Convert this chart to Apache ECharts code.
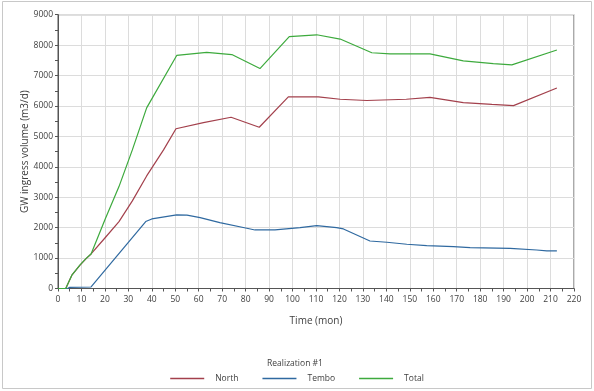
<!DOCTYPE html>
<html>
<head>
<meta charset="utf-8">
<script src="https://cdn.jsdelivr.net/npm/echarts@6/dist/echarts.min.js"></script>
<style>
html,body{margin:0;padding:0;background:#fff;}
#c{width:594px;height:391px;}
</style>
</head>
<body>
<div id="c"></div>
<script>
var seriesNames = ['North', 'Tembo', 'Total'];
var legendTitle = 'Realization #1';
var xTitle = 'Time (mon)';
var yTitle = 'GW ingress volume (m3/d)';

var north = [[0,0],[3.3,0],[6,450],[9.4,770],[12,980],[14.1,1135],[20,1660],[26,2200],[31.7,2880],[37.8,3700],[45,4556],[50.3,5250],[62,5450],[73.8,5630],[85.8,5300],[98.2,6300],[111,6300],[120.3,6220],[131.6,6180],[148.5,6220],[158.6,6280],[172.8,6110],[185,6050],[194.2,6010],[212.7,6590]];
var tembo = [[0,0],[4,0],[5,40],[14.1,50],[37.4,2200],[40,2286],[50.6,2418],[55,2410],[60.6,2330],[69,2165],[80.5,1980],[84,1924],[92.5,1924],[103.2,2000],[110.3,2066],[118.8,2000],[121.7,1957],[133,1562],[140.2,1520],[148.7,1454],[157.2,1408],[168.6,1375],[175.7,1342],[192.8,1322],[204.1,1266],[208.4,1234],[212.7,1234]];
var total = [[0,0],[3.3,0],[6,450],[9.4,775],[12,990],[14.1,1135],[20,2260],[26,3350],[31.7,4556],[37.8,5936],[50.6,7660],[63.4,7760],[74.1,7690],[86.1,7230],[98.6,8280],[110.3,8340],[120.3,8200],[133.8,7750],[141.6,7710],[158.6,7710],[172.8,7480],[185.6,7390],[193.5,7350],[212.7,7840]];

var colors = ['#A3404C', '#2F69A0', '#3DAA3D'];
var font = 'Open Sans';
var txt = '#404040';

var chart = echarts.init(document.getElementById('c'), null, {renderer: 'canvas'});
chart.setOption({
  animation: false,
  backgroundColor: '#fff',
  color: colors,
  textStyle: {fontFamily: font},
  title: {
    text: legendTitle,
    left: 290, top: 354, textAlign: 'center',
    textStyle: {fontSize: 8.5, fontWeight: 'normal', color: txt, fontFamily: font}
  },
  legend: {
    data: seriesNames,
    left: 'center', top: 369,
    icon: 'rect', itemWidth: 34, itemHeight: 1.5, itemGap: 24,
    textStyle: {fontSize: 8.5, color: txt, fontFamily: font, padding: [0,0,0,6]}
  },
  graphic: [{
    type: 'rect', shape: {x: 2.5, y: 1.5, width: 589, height: 387},
    style: {fill: 'none', stroke: '#c8c8c8', lineWidth: 1}, silent: true, z: 0
  }],
  grid: {left: 58, right: 20, top: 14.7, bottom: 102.5, show: true, borderColor: '#555', borderWidth: 1, containLabel: false},
  xAxis: {
    type: 'value', min: 0, max: 220, interval: 10,
    name: xTitle, nameLocation: 'middle', nameGap: 28, nameMoveOverlap: false,
    nameTextStyle: {fontSize: 10, color: txt, fontFamily: font},
    axisLine: {show: true, lineStyle: {color: '#555'}},
    axisTick: {show: true, length: 3, lineStyle: {color: '#555'}},
    minorTick: {show: true, splitNumber: 2, length: 3, lineStyle: {color: '#555'}},
    axisLabel: {fontSize: 8.5, color: txt, margin: 7, fontFamily: font, formatter: function (v) { return String(v); }},
    splitLine: {show: true, lineStyle: {color: '#dcdcdc'}}
  },
  yAxis: {
    type: 'value', min: 0, max: 9000, interval: 1000,
    name: yTitle, nameLocation: 'middle', nameGap: 28, nameMoveOverlap: false,
    nameTextStyle: {fontSize: 10, color: txt, fontFamily: font},
    axisLine: {show: true, lineStyle: {color: '#555'}},
    axisTick: {show: true, length: 3, lineStyle: {color: '#555'}},
    minorTick: {show: true, splitNumber: 2, length: 3, lineStyle: {color: '#555'}},
    axisLabel: {fontSize: 8.5, color: txt, margin: 5, fontFamily: font, formatter: function (v) { return String(v); }},
    splitLine: {show: true, lineStyle: {color: '#dcdcdc'}}
  },
  series: [
    {name: seriesNames[0], type: 'line', data: north, showSymbol: false, symbol: 'none', lineStyle: {width: 1.2}},
    {name: seriesNames[1], type: 'line', data: tembo, showSymbol: false, symbol: 'none', lineStyle: {width: 1.2}},
    {name: seriesNames[2], type: 'line', data: total, showSymbol: false, symbol: 'none', lineStyle: {width: 1.2}}
  ]
});
</script>
</body>
</html>
